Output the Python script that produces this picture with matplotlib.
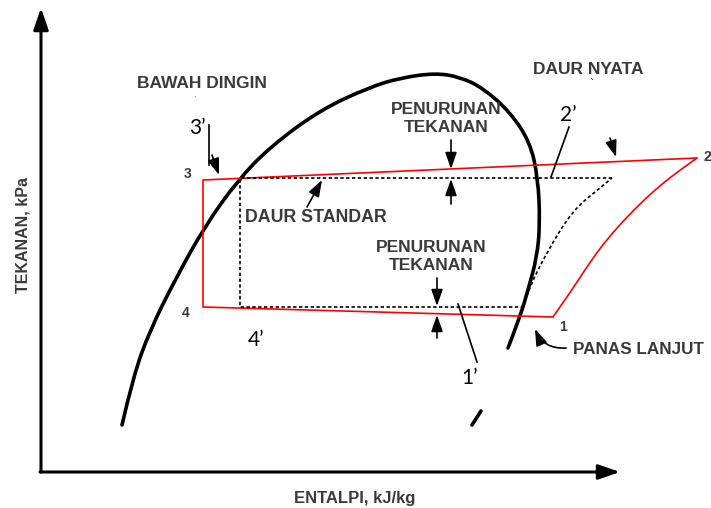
import numpy as np
import matplotlib
matplotlib.use("Agg")
import matplotlib.pyplot as plt
from matplotlib.path import Path
from matplotlib.patches import PathPatch

# diagram, in pixel units (h = enthalpy to the right, p = pressure downwards)
dome_h = [122, 133, 150, 176, 205, 238, 270, 320, 370, 400, 435, 460, 483, 510, 530, 538, 540, 537, 528, 520, 508]
dome_p = [425, 377, 330, 278, 226, 180, 147, 110, 87, 78, 73, 77, 88, 112, 142, 178, 223, 257, 290, 317, 348]
dome_tail_h = [472, 481]
dome_tail_p = [425, 411]

# actual cycle (red): compression curve 1 -> 2, then 2 -> 3 -> 4 -> 1
comp_h = [553, 572, 590, 608, 627, 645, 662, 680, 697]
comp_p = [317, 290, 262, 238, 217, 199, 184, 170, 158]
real_h = [697, 203, 203, 553]
real_p = [158, 180, 307, 317]

# standard cycle (dashed): compression curve 1' -> 2, then 2 -> 3' -> 4' -> 1'
std_comp_h = [523, 528, 548, 573, 600, 612]
std_comp_p = [307, 290, 250, 210, 188, 178]
std_h = [612, 240, 240, 523]
std_p = [178, 178, 307, 307]


def smooth(h, p):
    # quadratic spline path through the read points
    pts = np.column_stack([h, p]).astype(float)
    verts = [pts[0]]
    codes = [Path.MOVETO]
    for i in range(1, len(pts) - 2):
        verts += [pts[i], (pts[i] + pts[i + 1]) / 2]
        codes += [Path.CURVE3, Path.CURVE3]
    verts += [pts[-2], pts[-1]]
    codes += [Path.CURVE3, Path.CURVE3]
    return Path(verts, codes)


lbl_font = dict(family="Liberation Sans", fontweight="bold", color="#3a3a3a")
num_font = dict(family="Lato", color="black", fontsize=15)

fig = plt.figure(figsize=(7.11, 5.08), dpi=100)
ax = fig.add_axes([0, 0, 1, 1])
ax.set_xlim(0, 711)
ax.set_ylim(508, 0)
ax.axis("off")

# axes arrows
big = dict(arrowstyle="-|>,head_length=1.3,head_width=0.45", lw=2.2, color="black",
           shrinkA=0, shrinkB=0)
ax.annotate("", xy=(41, 8), xytext=(41, 472), arrowprops=big)
ax.annotate("", xy=(620, 472), xytext=(40, 472), arrowprops=big)

# saturation dome
ax.add_patch(PathPatch(smooth(dome_h, dome_p), fill=False, edgecolor="black", lw=2.6,
                       capstyle="round", joinstyle="round"))
ax.plot(dome_tail_h, dome_tail_p, color="black", lw=2.6, solid_capstyle="round")

# cycles
ax.add_patch(PathPatch(smooth(comp_h, comp_p), fill=False, edgecolor="#ff0000", lw=1.2))
ax.plot(real_h, real_p, color="#ff0000", lw=1.2)
ax.add_patch(PathPatch(smooth(std_comp_h, std_comp_p), fill=False, edgecolor="black", lw=1.2,
                       linestyle=(0, (2, 1.5))))
ax.plot(std_h, std_p, color="black", lw=1.2, linestyle=(0, (2, 1.5)))

# small arrows
small = dict(arrowstyle="-|>,head_length=1.0,head_width=0.35", lw=1.2, color="black",
             shrinkA=0, shrinkB=0)
ax.annotate("", xy=(451, 169), xytext=(451, 140), arrowprops=small)
ax.annotate("", xy=(451, 179), xytext=(451, 204), arrowprops=small)
ax.annotate("", xy=(437, 306), xytext=(437, 278), arrowprops=small)
ax.annotate("", xy=(437, 315), xytext=(437, 338), arrowprops=small)
ax.annotate("", xy=(322, 180), xytext=(307, 207), arrowprops=small)
ax.annotate("", xy=(219, 175), xytext=(212, 155), arrowprops=small)
ax.annotate("", xy=(616, 157), xytext=(610, 138), arrowprops=small)
ax.annotate("", xy=(535, 329), xytext=(566, 348),
            arrowprops=dict(small, connectionstyle="arc3,rad=-0.35"))

# leader lines
ax.plot([209, 209], [125, 165], color="black", lw=1.2)
ax.plot([569, 551], [127, 177], color="black", lw=1.2)
ax.plot([458, 477], [304, 362], color="black", lw=1.2)

# labels
ax.text(202, 84, "BAWAH DINGIN", ha="center", va="center", fontsize=12.5, **lbl_font)
ax.text(588, 70, "DAUR NYATA", ha="center", va="center", fontsize=12.5, **lbl_font)
ax.text(446, 110, "PENURUNAN", ha="center", va="center", fontsize=12.5, **lbl_font)
ax.text(446, 128, "TEKANAN", ha="center", va="center", fontsize=12.5, **lbl_font)
ax.text(431, 247, "PENURUNAN", ha="center", va="center", fontsize=12.5, **lbl_font)
ax.text(431, 266, "TEKANAN", ha="center", va="center", fontsize=12.5, **lbl_font)
ax.text(245, 217, "DAUR STANDAR", ha="left", va="center", fontsize=12.8, **lbl_font)
ax.text(573, 349, "PANAS LANJUT", ha="left", va="center", fontsize=12.3, **lbl_font)
ax.text(355, 498, "ENTALPI, kJ/kg", ha="center", va="center", fontsize=12, **lbl_font)
ax.text(23, 235, "TEKANAN, kPa", ha="center", va="center", rotation=90, fontsize=11.5, **lbl_font)

ax.text(188, 174, "3", ha="center", va="center", fontsize=10, **lbl_font)
ax.text(186, 313, "4", ha="center", va="center", fontsize=10, **lbl_font)
ax.text(563, 327, "1", ha="center", va="center", fontsize=10, **lbl_font)
ax.text(703, 157, "2", ha="left", va="center", fontsize=10, **lbl_font)

ax.text(197, 128, "3\u2019", ha="center", va="center", **num_font)
ax.text(256, 340, "4\u2019", ha="center", va="center", **num_font)
ax.text(470, 378, "1\u2019", ha="center", va="center", **num_font)
ax.text(568, 115, "2\u2019", ha="center", va="center", **num_font)

ax.text(194, 99, ".", ha="center", va="bottom", fontsize=6, color="#555555")
ax.text(592, 84, "`", ha="center", va="center", fontsize=7, color="black")

fig.savefig("out.png", dpi=100)
